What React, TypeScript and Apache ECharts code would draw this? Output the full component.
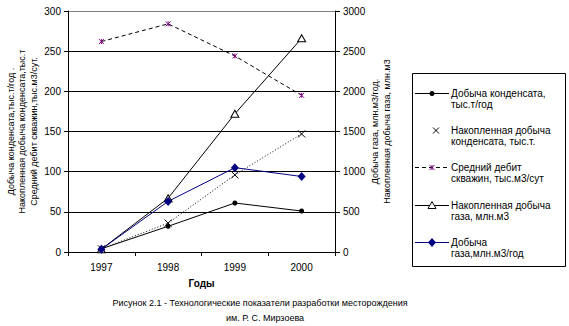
import React, { useEffect, useRef } from "react";
import * as echarts from "echarts";

const years = ["1997", "1998", "1999", "2000"];
const condensateYear = [4, 32, 61, 51];
const condensateCum = [4, 36, 96, 147];
const wellRate = [262, 284, 244, 195];
const gasCum = [35, 670, 1720, 2660];
const gasYear = [35, 630, 1050, 940];

const leftTicks = { min: 0, max: 300, interval: 50 };
const rightTicks = { min: 0, max: 3000, interval: 500 };

const seriesNames = [
  "Добыча конденсата, тыс.т/год",
  "Накопленная добыча конденсата, тыс.т.",
  "Средний дебит скважин, тыс.м3/сут",
  "Накопленная добыча газа, млн.м3",
  "Добыча газа, млн.м3/год",
];
const legendLines = [
  ["Добыча конденсата,", "тыс.т/год"],
  ["Накопленная добыча", "конденсата, тыс.т."],
  ["Средний дебит", "скважин, тыс.м3/сут"],
  ["Накопленная добыча", "газа, млн.м3"],
  ["Добыча", "газа,млн.м3/год"],
];
const leftTitle = [
  "Добыча конденсата,тыс.т/год .",
  "Накопленная добыча конденсата,тыс.т",
  "Средний дебит скважин,тыс.м3/сут.",
];
const rightTitle = ["Добыча газа, млн.м3/год.", "Накопленная добыча газа, млн.м3"];
const xTitle = "Годы";
const caption = [
  "Рисунок 2.1 - Технологические показатели разработки месторождения",
  "им. Р. С. Мирзоева",
];

const FONT = '"Liberation Sans", Arial, sans-serif';
const NAVY = "#000080";
const PURPLE = "#800080";
const X_PATH = "path://M0,0L10,10M10,0L0,10";
const STAR_PATH = "path://M0,0L10,10M10,0L0,10M5,0L5,10";

function legendGraphic() {
  const els: any[] = [];
  els.push({
    type: "rect",
    shape: { x: 412.5, y: 73.5, width: 153, height: 193 },
    style: { fill: "#fff", stroke: "#000", lineWidth: 1 },
  });
  const x1 = 415, x2 = 449, cx = 432;
  legendLines.forEach((lines, i) => {
    const y = Math.round(93 + 37.2 * i) + 0.5;
    if (i !== 1) {
      els.push({
        type: "line",
        shape: { x1, y1: y, x2, y2: y },
        style: {
          stroke: i === 4 ? NAVY : "#000",
          lineWidth: 1,
          lineDash: i === 2 ? [4, 3] : null,
        },
      });
    }
    if (i === 0) {
      els.push({ type: "circle", shape: { cx, cy: y, r: 2.5 }, style: { fill: "#000" } });
    } else if (i === 1) {
      els.push({ type: "line", shape: { x1: 433, y1: y - 3, x2: 439, y2: y + 3 }, style: { stroke: "#000", lineWidth: 1 } });
      els.push({ type: "line", shape: { x1: 439, y1: y - 3, x2: 433, y2: y + 3 }, style: { stroke: "#000", lineWidth: 1 } });
    } else if (i === 2) {
      els.push({ type: "line", shape: { x1: cx - 2.5, y1: y - 2.5, x2: cx + 2.5, y2: y + 2.5 }, style: { stroke: PURPLE, lineWidth: 1 } });
      els.push({ type: "line", shape: { x1: cx + 2.5, y1: y - 2.5, x2: cx - 2.5, y2: y + 2.5 }, style: { stroke: PURPLE, lineWidth: 1 } });
      els.push({ type: "line", shape: { x1: cx, y1: y - 2.5, x2: cx, y2: y + 2.5 }, style: { stroke: PURPLE, lineWidth: 1 } });
    } else if (i === 3) {
      els.push({
        type: "polygon",
        shape: { points: [[cx, y - 4], [cx - 4, y + 3], [cx + 4, y + 3]] },
        style: { fill: "#fff", stroke: "#000", lineWidth: 1 },
      });
    } else if (i === 4) {
      els.push({
        type: "polygon",
        shape: { points: [[cx, y - 4.5], [cx + 4, y], [cx, y + 4.5], [cx - 4, y]] },
        style: { fill: NAVY },
      });
    }
    els.push({
      type: "text",
      x: 451,
      y: y - 6,
      style: {
        text: lines.join("\n"),
        fill: "#000",
        font: `10px ${FONT}`,
        lineHeight: 11.5,
        verticalAlign: "top",
        align: "left",
      },
    });
  });
  els.push({
    type: "text",
    x: 260,
    y: 303,
    style: { text: caption[0], fill: "#000", font: `9px ${FONT}`, align: "center", verticalAlign: "middle" },
  });
  els.push({
    type: "text",
    x: 265,
    y: 318,
    style: { text: caption[1], fill: "#000", font: `9px ${FONT}`, align: "center", verticalAlign: "middle" },
  });
  return els;
}

export default function App() {
  const ref = useRef<HTMLDivElement>(null);
  useEffect(() => {
    if (!ref.current) return;
    const chart = echarts.init(ref.current, null, { renderer: "svg" });
    const axisText = { color: "#000", fontSize: 10, fontFamily: FONT };
    const splitColors = ["#000", "#000", "#000", "#000", "#000", "#000", "#808080"];
    chart.setOption({
      animation: false,
      backgroundColor: "#fff",
      textStyle: { fontFamily: FONT },
      grid: { left: 68, right: 234, top: 11, bottom: 74 },
      xAxis: {
        type: "category",
        data: years,
        boundaryGap: true,
        axisLine: { lineStyle: { color: "#000", width: 1 } },
        axisTick: { show: true, length: 4, lineStyle: { color: "#000" } },
        axisLabel: { ...axisText, margin: 10 },
        name: xTitle,
        nameLocation: "middle",
        nameGap: 26,
        nameTextStyle: { color: "#000", fontSize: 10, fontWeight: "bold", fontFamily: FONT },
      },
      yAxis: [
        {
          type: "value",
          ...leftTicks,
          position: "left",
          axisLine: { show: true, lineStyle: { color: "#000" } },
          axisTick: { show: true, length: 4, lineStyle: { color: "#000" } },
          axisLabel: { ...axisText, margin: 7, formatter: (v: number) => String(v) },
          splitLine: { show: true, lineStyle: { color: splitColors, width: 1 } },
          name: leftTitle.join("\n"),
          nameLocation: "middle",
          nameRotate: 90,
          nameGap: 28,
          nameTextStyle: { color: "#000", fontSize: 9, lineHeight: 11.7, fontFamily: FONT },
        },
        {
          type: "value",
          ...rightTicks,
          position: "right",
          axisLine: { show: true, lineStyle: { color: "#000" } },
          axisTick: { show: true, length: 5, lineStyle: { color: "#000" } },
          axisLabel: { ...axisText, margin: 8, formatter: (v: number) => String(v) },
          splitLine: { show: false },
          name: rightTitle.join("\n"),
          nameLocation: "middle",
          nameRotate: 90,
          nameGap: 30,
          nameTextStyle: { color: "#000", fontSize: 9, lineHeight: 11.7, fontFamily: FONT },
        },
      ],
      series: [
        {
          name: seriesNames[0],
          type: "line",
          yAxisIndex: 0,
          data: condensateYear,
          symbol: "circle",
          symbolSize: 5,
          itemStyle: { color: "#000" },
          lineStyle: { color: "#000", width: 1 },
        },
        {
          name: seriesNames[1],
          type: "line",
          yAxisIndex: 0,
          data: condensateCum,
          symbol: X_PATH,
          symbolSize: 7,
          itemStyle: { color: "none", borderColor: "#000", borderWidth: 1 },
          lineStyle: { color: "#000", width: 1, type: [1, 2] },
        },
        {
          name: seriesNames[2],
          type: "line",
          yAxisIndex: 0,
          data: wellRate,
          symbol: STAR_PATH,
          symbolSize: 5,
          itemStyle: { color: "none", borderColor: PURPLE, borderWidth: 1 },
          lineStyle: { color: "#000", width: 1, type: [4, 3] },
        },
        {
          name: seriesNames[3],
          type: "line",
          yAxisIndex: 1,
          data: gasCum,
          symbol: "triangle",
          symbolSize: [8, 7],
          itemStyle: { color: "#fff", borderColor: "#000", borderWidth: 1 },
          lineStyle: { color: "#000", width: 1 },
        },
        {
          name: seriesNames[4],
          type: "line",
          yAxisIndex: 1,
          data: gasYear,
          symbol: "diamond",
          symbolSize: [8, 9],
          itemStyle: { color: NAVY },
          lineStyle: { color: NAVY, width: 1 },
        },
      ],
      graphic: legendGraphic(),
    });
    return () => chart.dispose();
  }, []);
  return (
    <div
      ref={ref}
      style={{ position: "absolute", left: 0, top: 0, width: 569, height: 326, background: "#fff" }}
    />
  );
}
